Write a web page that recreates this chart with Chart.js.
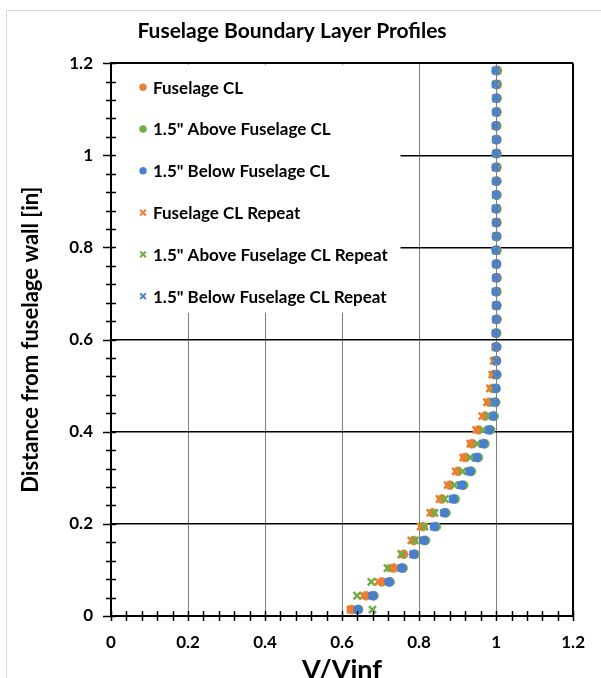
<!DOCTYPE html>
<html>
<head>
<meta charset="utf-8">
<script src="https://cdn.jsdelivr.net/npm/chart.js@4/dist/chart.umd.min.js"></script>
<style>
  html, body { margin: 0; padding: 0; background: #fff; }
  #wrap { width: 601px; height: 678px; position: relative; }
</style>
</head>
<body>
<div id="wrap"><canvas id="chartBL"></canvas></div>
<script>
// =====================
//  Datos
// =====================
const heights = [0.014, 0.044, 0.074, 0.104, 0.134, 0.164, 0.194, 0.224, 0.254, 0.284,
  0.314, 0.344, 0.374, 0.404, 0.434, 0.464, 0.494, 0.524, 0.554, 0.584,
  0.614, 0.644, 0.674, 0.704, 0.734, 0.764, 0.794, 0.824, 0.854, 0.884,
  0.914, 0.944, 0.974, 1.004, 1.034, 1.064, 1.094, 1.124, 1.154, 1.184];

const fuselageCL = [0.624, 0.662, 0.703, 0.734, 0.760, 0.786, 0.810, 0.835, 0.859, 0.880,
  0.901, 0.919, 0.937, 0.954, 0.971, 0.982, 0.990, 0.994, 0.998,
  1.000, 1.001, 1.002, 1.001, 1.002, 1.002, 1.001, 1.002, 1.001, 1.002, 1.001,
  1.002, 1.002, 1.001, 1.002, 1.001, 1.001, 1.002, 1.002, 1.003, 1.003];

const aboveCL = [0.643, 0.683, 0.725, 0.759, 0.790, 0.817, 0.845, 0.870, 0.894, 0.916,
  0.936, 0.954, 0.971, 0.986, 0.995, 0.999, 1.000, 1.002, 1.001,
  1.002, 1.001, 1.002, 1.002, 1.001, 1.002, 1.001, 1.001, 1.002, 1.001, 1.002,
  1.001, 1.001, 1.002, 1.001, 1.002, 1.001, 1.001, 1.002, 1.002, 1.003];

const belowCL = [0.641, 0.680, 0.722, 0.755, 0.786, 0.813, 0.840, 0.866, 0.889, 0.911,
  0.932, 0.950, 0.967, 0.982, 0.992, 0.997, 0.999, 1.001, 1.001,
  1.001, 1.000, 1.001, 1.001, 1.000, 1.001, 1.001, 1.000, 1.001, 1.001, 1.000,
  1.001, 1.001, 1.000, 1.001, 1.001, 1.000, 1.001, 1.001, 1.000, 1.000];

const fuselageCLRep = [0.622, 0.655, 0.694, 0.726, 0.754, 0.780, 0.804, 0.829, 0.853, 0.874,
  0.895, 0.915, 0.933, 0.948, 0.964, 0.976, 0.984, 0.990, 0.994,
  0.998, 1.000, 1.001, 1.000, 1.001, 1.002, 1.001, 1.001, 1.000, 1.002, 1.001,
  1.000, 1.001, 1.002, 1.001, 1.000, 1.001, 1.002, 1.001, 1.003, 1.003];

const aboveCLRep = [0.679, 0.639, 0.676, 0.718, 0.755, 0.789, 0.814, 0.840, 0.867, 0.892,
  0.913, 0.933, 0.951, 0.966, 0.980, 0.992, 0.997, 1.000, 1.000,
  1.000, 1.001, 1.000, 1.001, 1.001, 1.000, 1.001, 1.002, 1.001, 1.000, 1.001,
  1.001, 1.000, 1.001, 1.002, 1.001, 1.000, 1.001, 1.001, 1.002, 1.002];

const belowCLRep = [0.640, 0.679, 0.721, 0.754, 0.785, 0.812, 0.839, 0.865, 0.888, 0.910,
  0.931, 0.949, 0.966, 0.981, 0.991, 0.996, 0.999, 1.000, 1.000,
  1.000, 0.999, 1.000, 1.000, 0.999, 1.000, 1.000, 0.999, 1.000, 1.000, 0.999,
  1.000, 1.000, 0.999, 1.000, 1.000, 0.999, 1.000, 1.000, 0.999, 0.999];

const seriesNames = ['Fuselage CL', '1.5" Above Fuselage CL', '1.5" Below Fuselage CL',
  'Fuselage CL Repeat', '1.5" Above Fuselage CL Repeat', '1.5" Below Fuselage CL Repeat'];
const seriesValues = [fuselageCL, aboveCL, belowCL, fuselageCLRep, aboveCLRep, belowCLRep];

const ORANGE = '#ED7D31', GREEN = '#70AD47', BLUE = '#4A7ECF';
const colors = [ORANGE, GREEN, BLUE, ORANGE, GREEN, BLUE];
const styles = ['circle', 'circle', 'circle', 'crossRot', 'crossRot', 'crossRot'];

const FONT = 'Lato, "Open Sans", sans-serif';
const isMajor = (v) => Math.abs(v / 0.2 - Math.round(v / 0.2)) < 1e-6;

// =====================
//  Plugins: fondo, leyenda interna, marcas cruzadas
// =====================
const frame = {
  id: 'frame',
  beforeDraw(c) {
    const ctx = c.ctx;
    ctx.save();
    ctx.fillStyle = '#fff';
    ctx.fillRect(0, 0, c.width, c.height);
    ctx.strokeStyle = '#D9D9D9';
    ctx.lineWidth = 1;
    ctx.strokeRect(6.5, 10.5, 800, 800);
    ctx.restore();
  }
};

const innerLegend = {
  id: 'innerLegend',
  afterDatasetsDraw(c) {
    const ctx = c.ctx;
    const a = c.chartArea;
    ctx.save();
    ctx.fillStyle = '#fff';
    ctx.fillRect(a.left + 1.5, a.top + 1.5, 288, 248);
    ctx.font = 'bold 17px ' + FONT;
    ctx.textBaseline = 'middle';
    c.data.datasets.forEach((ds, i) => {
      const y = a.top + 24 + i * 41.8;
      const round = ds.pointStyle === 'circle';
      ctx.fillStyle = ds.backgroundColor;
      ctx.strokeStyle = ds.borderColor;
      ctx.lineWidth = round ? 0.5 : 2;
      Chart.helpers.drawPoint(ctx, {
        pointStyle: ds.pointStyle, radius: round ? 3.5 : 4, borderWidth: ctx.lineWidth, rotation: 0
      }, a.left + 32, y);
      ctx.fillStyle = '#000';
      ctx.fillText(ds.label, a.left + 42, y + 1);
    });
    ctx.restore();
  }
};

const crossTicks = {
  id: 'crossTicks',
  afterDraw(c) {
    const ctx = c.ctx;
    const {x, y} = c.scales;
    const a = c.chartArea;
    ctx.save();
    ctx.strokeStyle = '#000';
    ctx.lineWidth = 1.5;
    ctx.beginPath();
    x.ticks.forEach(t => {
      const px = Math.round(x.getPixelForValue(t.value)) + 0.5;
      ctx.moveTo(px, a.bottom - 5); ctx.lineTo(px, a.bottom + 5);
    });
    y.ticks.forEach(t => {
      const py = Math.round(y.getPixelForValue(t.value)) + 0.5;
      ctx.moveTo(a.left - (isMajor(t.value) ? 8 : 5), py); ctx.lineTo(a.left + 5, py);
    });
    ctx.stroke();
    ctx.restore();
  }
};

// =====================
//  Chart
// =====================
const datasets = seriesNames.map((name, i) => ({
  label: name,
  data: heights.map((h, k) => ({x: seriesValues[i][k], y: h})),
  pointStyle: styles[i],
  backgroundColor: colors[i],
  borderColor: colors[i],
  pointRadius: styles[i] === 'circle' ? 4.5 : 5,
  pointBorderWidth: styles[i] === 'circle' ? 0.5 : 2.5,
  showLine: false,
  order: 5 - i
}));

new Chart(document.getElementById('chartBL'), {
  type: 'scatter',
  data: { datasets },
  options: {
    responsive: true,
    maintainAspectRatio: false,
    animation: false,
    layout: { padding: { left: 0, right: 17, top: 0, bottom: 0 } },
    plugins: {
      legend: { display: false },
      tooltip: { enabled: false },
      title: {
        display: true,
        text: 'Fuselage Boundary Layer Profiles',
        color: '#000',
        font: { family: FONT, size: 21, weight: 'bold' },
        padding: { top: 19, bottom: 19 }
      }
    },
    scales: {
      x: {
        type: 'linear', min: 0, max: 1.2,
        afterFit: (s) => { s.height = 62; },
        border: { display: true, color: '#000', width: 2 },
        grid: {
          drawTicks: false,
          color: (ctx) => {
            const v = ctx.tick.value;
            if (Math.abs(v - 1.2) < 1e-6) return '#000';
            return isMajor(v) && v > 0 ? '#808080' : 'rgba(0,0,0,0)';
          },
          lineWidth: (ctx) => Math.abs(ctx.tick.value - 1.2) < 1e-6 ? 2 : 1
        },
        ticks: {
          stepSize: 0.04, autoSkip: false, maxRotation: 0, padding: 16,
          color: '#000',
          font: { family: FONT, size: 17, weight: 'bold' },
          callback: (v) => isMajor(v) ? String(Math.round(v * 10) / 10) : ''
        },
        title: {
          display: true, text: 'V/Vinf', color: '#000',
          font: { family: FONT, size: 27, weight: 'bold' },
          padding: { top: 0, bottom: -8 }
        }
      },
      y: {
        type: 'linear', min: 0, max: 1.2,
        afterFit: (s) => { s.width = 111; },
        border: { display: true, color: '#000', width: 2 },
        grid: {
          drawTicks: false,
          color: (ctx) => isMajor(ctx.tick.value) && ctx.tick.value > 0 ? '#000' : 'rgba(0,0,0,0)',
          lineWidth: (ctx) => Math.abs(ctx.tick.value - 1.2) < 1e-6 ? 2 : 1.5
        },
        ticks: {
          stepSize: 0.04, autoSkip: false, padding: 18,
          color: '#000',
          font: { family: FONT, size: 17, weight: 'bold' },
          callback: (v) => isMajor(v) ? String(Math.round(v * 10) / 10) : ''
        },
        title: {
          display: true, text: 'Distance from fuselage wall [in]', color: '#000',
          font: { family: FONT, size: 22, weight: 'bold' },
          padding: { top: 18, bottom: 0 }
        }
      }
    }
  },
  plugins: [frame, innerLegend, crossTicks]
});
</script>
</body>
</html>
